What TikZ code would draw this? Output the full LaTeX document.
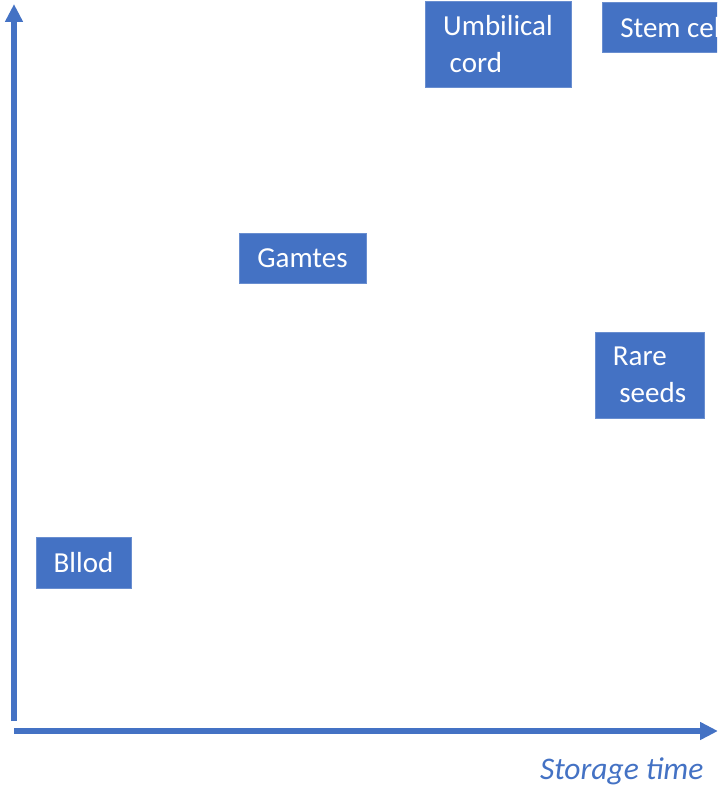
\documentclass[tikz,border=0pt]{standalone}
\usepackage{fontspec}
\setmainfont{Carlito}
\usetikzlibrary{arrows.meta}
\definecolor{boxblue}{HTML}{4472C4}
\tikzset{
	item/.style={fill=boxblue, draw=boxblue!80!white, line width=.6pt, text=white, align=left, inner sep=0pt, font=\fontsize{29}{37}\selectfont},
	axis/.style={draw=boxblue, line width=5.2pt, -{Triangle[length=18pt,width=17pt]}}
}

\begin{document}
\begin{tikzpicture}[x=1pt,y=-1pt]
			\useasboundingbox (0,0) rectangle (717,789);
			\begin{scope}
			\clip (0,0) rectangle (717,789);
			% axes
			\coordinate (yfoot) at (14,721);
			\coordinate (ytip) at (14,4);
			\coordinate (xfoot) at (14,731);
			\coordinate (xtip) at (718,731);
			\draw[axis] (yfoot) -- (ytip);
			\draw[axis] (xfoot) -- (xtip);
			\node[text=boxblue, font=\fontsize{31.5}{36}\selectfont\itshape, anchor=east] (xlabel) at (707,771) {Storage time};
			% samples
			\node[item, minimum width=146pt, minimum height=86pt] (cord) at (498,44) {Umbilical\\\hspace*{6.5pt}cord};
			\node[item, minimum height=50pt, anchor=north west, inner xsep=18pt] (stem) at (602,2) {Stem cell};
			\node[item, minimum width=127pt, minimum height=50pt] (gametes) at (302.5,258) {Gamtes};
			\node[item, minimum width=109pt, minimum height=86pt] (seeds) at (649.5,375) {Rare\\\hspace*{6.5pt}seeds};
			\node[item, minimum width=95pt, minimum height=51pt] (blood) at (83.5,562.5) {Bllod};
			\end{scope}
\end{tikzpicture}
\end{document}
